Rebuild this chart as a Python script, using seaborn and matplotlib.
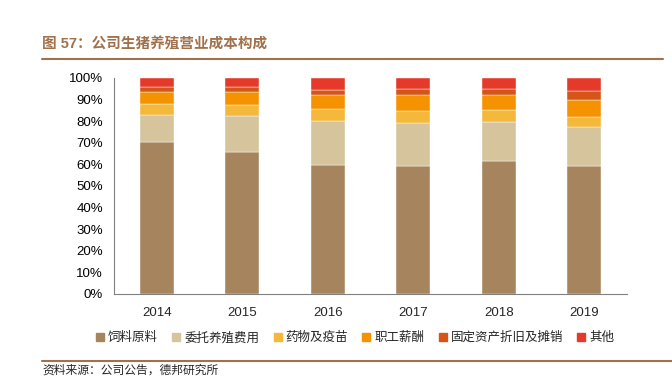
import numpy as np
import pandas as pd
import matplotlib.pyplot as plt
import seaborn as sns
from matplotlib.ticker import PercentFormatter
from matplotlib.lines import Line2D

# values (% of cost)
years = ['2014', '2015', '2016', '2017', '2018', '2019']
feed = [70.5, 65.6, 59.7, 59.4, 61.7, 59.4]
contract = [12.4, 16.9, 20.2, 19.8, 18.1, 17.9]
medicine = [5.2, 5.1, 5.7, 5.5, 5.5, 4.6]
salary = [5.3, 5.8, 6.7, 7.6, 6.7, 7.9]
depreciation = [2.4, 2.3, 2.1, 2.6, 2.9, 4.2]
other = [4.2, 4.3, 5.6, 5.1, 5.1, 6.0]

labels = ['饲料原料', '委托养殖费用', '药物及疫苗', '职工薪酬', '固定资产折旧及摊销', '其他']
colors = ['#A6855E', '#D5C49C', '#F4B83A', '#F59200', '#D55418', '#E53A2A']

sns.set_style('white')
plt.rcParams['font.family'] = ['Liberation Sans', 'Noto Sans CJK SC', 'DejaVu Sans']

df = pd.DataFrame({'year': years, labels[0]: feed, labels[1]: contract,
                   labels[2]: medicine, labels[3]: salary,
                   labels[4]: depreciation, labels[5]: other})

fig = plt.figure(figsize=(6.72, 3.78), dpi=100)
ax = fig.add_axes([114 / 672, 84 / 378, 513 / 672, 216 / 378])

bottom = np.zeros(len(years))
for lab, col in zip(labels, colors):
    sns.barplot(data=df, x='year', y=lab, bottom=bottom, color=col, width=0.4,
                saturation=1, edgecolor='white', linewidth=0.3, ax=ax)
    bottom += df[lab].values

ax.set_ylim(0, 100)
ax.set_xlim(-0.5, len(years) - 0.5)
ax.set_yticks(np.arange(0, 101, 10))
ax.yaxis.set_major_formatter(PercentFormatter(100, decimals=0))
ax.set_xlabel('')
ax.set_ylabel('')
for s in ['top', 'right']:
    ax.spines[s].set_visible(False)
for s in ['left', 'bottom']:
    ax.spines[s].set_color('#808080')
    ax.spines[s].set_linewidth(0.8)
ax.tick_params(axis='y', labelsize=9.5, length=3, direction='in', colors='#808080',
               labelcolor='black', pad=8)
ax.tick_params(axis='x', labelsize=9.5, length=0, pad=9)
ax.set_xticks(np.arange(-0.5, len(years), 1), minor=True)
ax.tick_params(axis='x', which='minor', length=3, direction='in', colors='#808080')

handles = [Line2D([], [], marker='s', linestyle='', color=c, markersize=5.5) for c in colors]
fig.legend(handles, labels, loc='center', bbox_to_anchor=(355 / 672, 1 - 338 / 378), ncol=6,
           frameon=False, fontsize=9, handlelength=0.7, handletextpad=0.3,
           columnspacing=1.1, borderpad=0)

brown = '#A0714A'
fig.text(42 / 672, 1 - 45 / 378, '图 57：公司生猪养殖营业成本构成', color=brown,
         fontsize=10.5, fontweight='bold', va='center', ha='left')
fig.add_artist(Line2D([42 / 672, 663 / 672], [1 - 59 / 378] * 2, color=brown, lw=1.5))
fig.add_artist(Line2D([42 / 672, 672 / 672], [1 - 361 / 378] * 2, color=brown, lw=1.5))
fig.text(42 / 672, 1 - 371 / 378, '资料来源：公司公告，德邦研究所', fontsize=8.5,
         va='center', ha='left')

plt.savefig('out.png', dpi=100)
